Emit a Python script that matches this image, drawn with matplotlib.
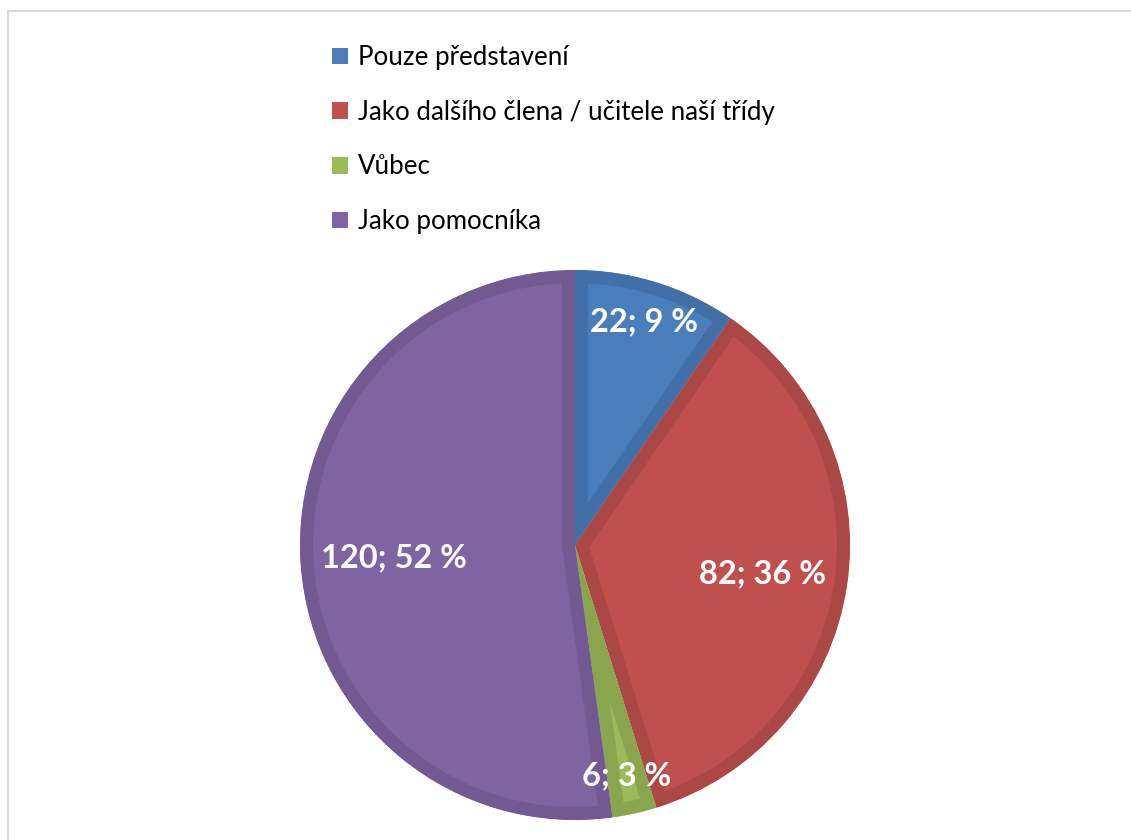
"""Pie chart: how pupils would take a robot in their class."""

import matplotlib

matplotlib.use("Agg")

import matplotlib.pyplot as plt
import numpy as np
from matplotlib.patches import Patch, Rectangle, Wedge

plt.rcParams["font.family"] = ["Lato", "DejaVu Sans"]

categories = [
    "Pouze představení",
    "Jako dalšího člena / učitele naší třídy",
    "Vůbec",
    "Jako pomocníka",
]
counts = [22, 82, 6, 120]
percents = [9, 36, 3, 52]

fills = ["#4a7ebb", "#c0504d", "#9bbb59", "#8064a2"]
bands = ["#4170a8", "#ab4845", "#89a64f", "#725992"]
label_radius = [0.85, 0.69, 0.86, 0.66]

W, H = 1131, 840
fig = plt.figure(figsize=(W / 100, H / 100), dpi=100)
ax = fig.add_axes([0, 0, 1, 1])
ax.set_xlim(0, W)
ax.set_ylim(0, H)

cx, cy, R = 575, H - 545, 275
band_px = 13

wedges, _ = ax.pie(
    counts,
    colors=fills,
    startangle=90,
    counterclock=False,
    center=(cx, cy),
    radius=R,
    frame=True,
)
for w, dark in zip(wedges, bands):
    # thick darker rim, clipped to the slice so only the inner half shows
    w.set_edgecolor(dark)
    w.set_linewidth(2 * band_px * 0.72)
    clip = Wedge(w.center, w.r, w.theta1, w.theta2, transform=ax.transData)
    w.set_clip_path(clip)
    w.set_clip_on(True)

# value labels along each slice bisector
total = sum(counts)
start = 90.0
for n, pct, rf in zip(counts, percents, label_radius):
    span = n / total * 360
    mid = np.deg2rad(start - span / 2)
    start -= span
    ax.text(cx + rf * R * np.cos(mid), cy + rf * R * np.sin(mid),
            f"{n}; {pct} %", color="white", fontsize=23.5, fontweight="bold",
            ha="center", va="center")

ax.set_xlim(0, W)
ax.set_ylim(0, H)
ax.set_aspect("equal")
ax.axis("off")

handles = [Patch(facecolor=c, edgecolor="none") for c in fills]
leg = ax.legend(handles, categories, loc="upper left",
                bbox_to_anchor=(332 / W, 1 - 45 / H),
                frameon=False, fontsize=18.6, handlelength=0.6,
                handleheight=0.6, handletextpad=0.4, labelspacing=1.15,
                borderpad=0, borderaxespad=0)

fig.patches.append(Rectangle((8 / W, -0.1), 1.2, 1 - 11 / H + 0.1,
                             transform=fig.transFigure, fill=False,
                             edgecolor="#d9d9d9", linewidth=1.5))

fig.savefig("out.png", dpi=100, facecolor="white")
plt.close(fig)
